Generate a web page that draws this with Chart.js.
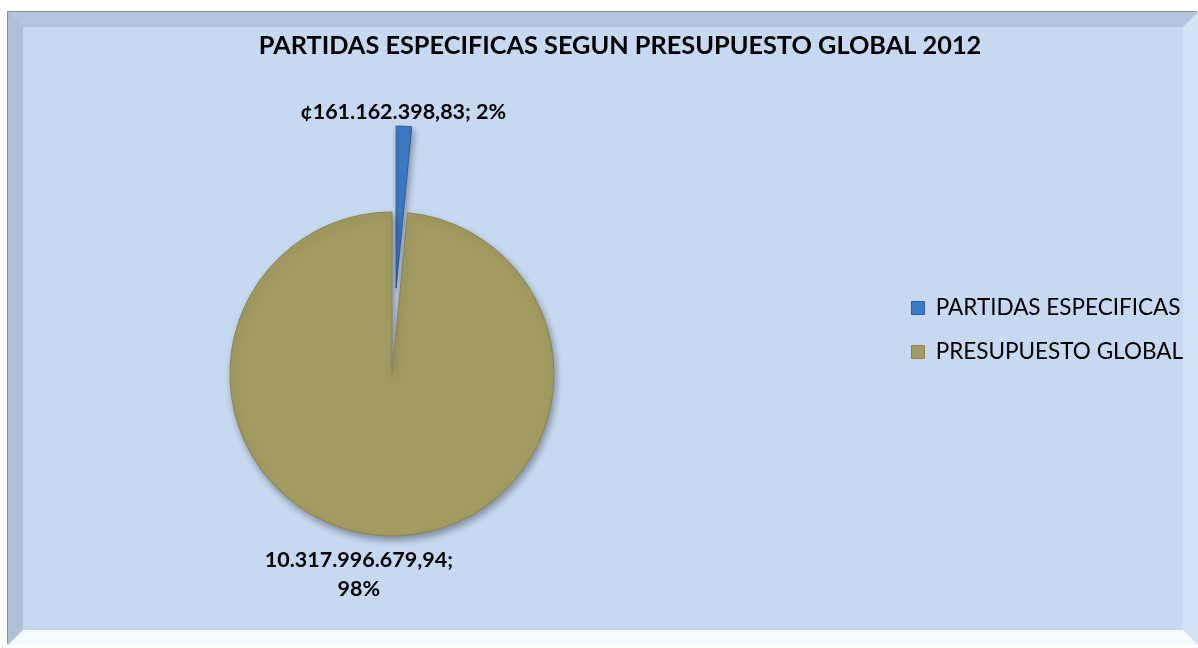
<!DOCTYPE html>
<html>
<head>
<meta charset="utf-8">
<title>Partidas especificas segun presupuesto global 2012</title>
<script src="https://cdn.jsdelivr.net/npm/chart.js@4/dist/chart.umd.min.js"></script>
<style>
    html, body { margin: 0; padding: 0; background: #fff; overflow: hidden; }
    #frame {
        position: absolute; left: 8px; top: 12px;
        width: 1160px; height: 603px;
        border-style: solid; border-width: 15px;
        border-color: #b3c5dc #d3e2f5 #f3fbff #aec0d8;
        box-shadow: -1px -1px 0 #8d8d8d;
        background: #c6d9f1;
    }
    #pieChart { position: absolute; left: 0; top: 0; }
</style>
</head>
<body>
<div id="frame"></div>
<canvas id="pieChart" width="1198" height="648"></canvas>
<script>
"use strict";

const chartTitle = 'PARTIDAS ESPECIFICAS SEGUN PRESUPUESTO GLOBAL 2012';
const categories = ['PARTIDAS ESPECIFICAS', 'PRESUPUESTO GLOBAL'];
const amounts = [161162398.83, 10317996679.94];
const currencyPrefix = ['¢', ''];

// 10317996679.94 -> "10.317.996.679,94"
function formatAmount(value) {
    const parts = value.toFixed(2).split('.');
    return parts[0].replace(/\B(?=(\d{3})+(?!\d))/g, '.') + ',' + parts[1];
}

function wrapText(ctx, text, maxWidth) {
    const words = text.split(' ');
    const lines = [];
    let line = '';
    words.forEach(word => {
        const test = line ? line + ' ' + word : word;
        if (line && ctx.measureText(test).width > maxWidth) {
            lines.push(line);
            line = word;
        } else {
            line = test;
        }
    });
    lines.push(line);
    return lines;
}

// pulls one slice out of the pie without changing its radius
const explodeSlice = {
    id: 'explodeSlice',
    afterDatasetUpdate(chart, args, opts) {
        const arc = args.meta.data[opts.index];
        if (!arc) return;
        const mid = (arc.startAngle + arc.endAngle) / 2;
        arc.x += Math.cos(mid) * opts.distance;
        arc.y += Math.sin(mid) * opts.distance;
    }
};

// empty box between the pie and the legend
const legendGap = {
    id: 'legendGap',
    beforeInit(chart, args, opts) {
        Chart.layouts.addBox(chart, {
            position: 'right',
            weight: 500,
            fullSize: false,
            options: {},
            width: 0, height: 0, left: 0, top: 0, right: 0, bottom: 0,
            isHorizontal() { return false; },
            update(maxWidth, maxHeight) {
                this.width = opts.width;
                this.height = maxHeight;
            },
            getPadding() { return {top: 0, left: 0, right: 0, bottom: 0}; },
            draw() {}
        });
    }
};

// shadow under the slices + value labels outside them
const sliceLabels = {
    id: 'sliceLabels',
    beforeDatasetsDraw(chart) {
        const ctx = chart.ctx;
        ctx.save();
        ctx.shadowColor = 'rgba(0, 0, 0, 0.35)';
        ctx.shadowBlur = 7;
        ctx.shadowOffsetX = 2;
        ctx.shadowOffsetY = 4;
    },
    afterDatasetsDraw(chart, args, opts) {
        const ctx = chart.ctx;
        ctx.restore();

        const meta = chart.getDatasetMeta(0);
        const values = chart.data.datasets[0].data;
        const total = values.reduce((sum, v) => sum + v, 0);

        ctx.save();
        ctx.font = 'bold ' + opts.size + 'px ' + opts.family;
        ctx.fillStyle = opts.color;
        ctx.textAlign = 'center';
        ctx.textBaseline = 'middle';
        meta.data.forEach((arc, i) => {
            const text = currencyPrefix[i] + formatAmount(values[i]) + '; ' +
                Math.round(values[i] * 100 / total) + '%';
            const lines = wrapText(ctx, text, opts.maxWidth);
            const mid = (arc.startAngle + arc.endAngle) / 2;
            const r = arc.outerRadius + opts.distance;
            const nudge = opts.nudge[i] || [0, 0];
            const cx = arc.x + Math.cos(mid) * r + nudge[0];
            const cy = arc.y + Math.sin(mid) * r + nudge[1];
            const top = cy - (lines.length - 1) * opts.lineHeight / 2;
            lines.forEach((line, j) => ctx.fillText(line, cx, top + j * opts.lineHeight));
        });
        ctx.restore();
    }
};

const ctx = document.getElementById('pieChart').getContext('2d');
new Chart(ctx, {
    type: 'pie',
    data: {
        labels: categories,
        datasets: [{
            data: amounts,
            backgroundColor: ['#3c7cc6', '#a39c62'],
            borderColor: ['#2c5f9c', '#8b844f'],
            borderWidth: 1
        }]
    },
    options: {
        responsive: false,
        animation: false,
        events: [],
        radius: 162,
        layout: {
            padding: {left: 47, right: 5, top: 12, bottom: 0}
        },
        plugins: {
            title: {
                display: true,
                text: chartTitle,
                color: '#000',
                font: {family: 'Lato', size: 25.3, weight: 'bold'},
                padding: {top: 18.8, bottom: 38.8}
            },
            legend: {
                position: 'right',
                align: 'center',
                maxWidth: 400,
                labels: {
                    color: '#000',
                    font: {family: 'Lato', size: 22.5},
                    boxWidth: 13,
                    boxHeight: 13,
                    padding: 21.5
                }
            },
            tooltip: {enabled: false},
            explodeSlice: {index: 0, distance: 86},
            legendGap: {width: 153},
            sliceLabels: {
                family: 'Lato',
                size: 21.5,
                lineHeight: 29,
                color: '#000',
                maxWidth: 215,
                distance: 26,
                nudge: [[-2, 12], [-24, 13]]
            }
        }
    },
    plugins: [explodeSlice, legendGap, sliceLabels]
});
</script>
</body>
</html>
